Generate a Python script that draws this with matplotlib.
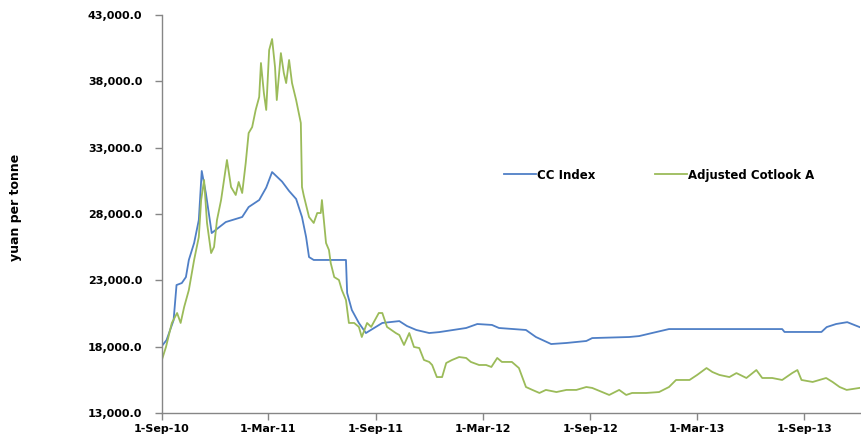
import numpy as np
import pandas as pd
import matplotlib
matplotlib.use("Agg")
import matplotlib.pyplot as plt

# CC Index (yuan per tonne)
cc_dates = ["2010-09-01", "2010-09-09", "2010-09-21", "2010-09-26", "2010-10-05", "2010-10-12",
            "2010-10-17", "2010-10-26", "2010-11-03", "2010-11-08", "2010-11-15", "2010-11-25",
            "2010-12-19", "2011-01-16", "2011-01-27", "2011-02-14", "2011-02-26", "2011-03-08",
            "2011-03-25", "2011-04-06", "2011-04-18", "2011-04-28", "2011-05-05", "2011-05-10",
            "2011-05-18", "2011-07-12", "2011-07-14", "2011-07-22", "2011-08-03", "2011-08-15",
            "2011-09-12", "2011-10-11", "2011-10-24", "2011-11-09", "2011-12-01", "2011-12-18",
            "2012-02-02", "2012-02-21", "2012-03-17", "2012-03-29", "2012-05-14", "2012-05-31",
            "2012-06-26", "2012-07-22", "2012-08-25", "2012-09-04", "2012-11-06", "2012-11-23",
            "2012-12-15", "2013-01-13", "2013-07-25", "2013-07-29", "2013-09-30", "2013-10-09",
            "2013-10-25", "2013-11-13", "2013-12-04"]
cc_values = [18050, 18500, 20000, 22650, 22800, 23250,
             24540, 25820, 27550, 31250, 29590, 26570,
             27400, 27780, 28530, 29060, 30000, 31170,
             30450, 29740, 29140, 27780, 26270, 24760,
             24540, 24540, 22050, 20770, 19790, 19030,
             19790, 19930, 19560, 19260, 19030, 19100,
             19410, 19710, 19640, 19410, 19260, 18730,
             18200, 18280, 18430, 18650, 18730, 18800,
             19030, 19330, 19330, 19110, 19110, 19480,
             19710, 19850, 19480]

# Adjusted Cotlook A (yuan per tonne)
ct_dates = ["2010-09-01", "2010-09-08", "2010-09-18", "2010-09-27", "2010-10-03", "2010-10-09",
            "2010-10-17", "2010-10-26", "2010-11-03", "2010-11-07", "2010-11-12", "2010-11-17",
            "2010-11-24", "2010-11-29", "2010-12-04", "2010-12-11", "2010-12-16", "2010-12-21",
            "2010-12-28", "2011-01-05", "2011-01-10", "2011-01-16", "2011-01-22", "2011-01-27",
            "2011-02-02", "2011-02-08", "2011-02-14", "2011-02-17", "2011-02-22", "2011-02-26",
            "2011-03-03", "2011-03-08", "2011-03-13", "2011-03-16", "2011-03-23", "2011-03-28",
            "2011-04-01", "2011-04-06", "2011-04-11", "2011-04-18", "2011-04-26", "2011-04-28",
            "2011-05-01", "2011-05-10", "2011-05-18", "2011-05-24", "2011-05-30", "2011-06-01",
            "2011-06-08", "2011-06-13", "2011-06-16", "2011-06-22", "2011-06-30", "2011-07-05",
            "2011-07-12", "2011-07-17", "2011-07-26", "2011-08-03", "2011-08-08", "2011-08-17",
            "2011-08-24", "2011-09-06", "2011-09-12", "2011-09-20", "2011-10-05", "2011-10-11",
            "2011-10-19", "2011-10-28", "2011-11-05", "2011-11-14", "2011-11-22", "2011-12-01",
            "2011-12-06", "2011-12-14", "2011-12-23", "2011-12-30", "2012-01-09", "2012-01-21",
            "2012-02-02", "2012-02-10", "2012-02-24", "2012-03-07", "2012-03-16", "2012-03-26",
            "2012-04-03", "2012-04-20", "2012-05-02", "2012-05-14", "2012-05-25", "2012-06-06",
            "2012-06-17", "2012-07-05", "2012-07-22", "2012-08-08", "2012-08-25", "2012-09-04",
            "2012-09-21", "2012-10-03", "2012-10-20", "2012-11-01", "2012-11-11", "2012-12-05",
            "2012-12-27", "2013-01-13", "2013-01-25", "2013-02-17", "2013-03-02", "2013-03-18",
            "2013-03-28", "2013-04-09", "2013-04-26", "2013-05-08", "2013-05-25", "2013-06-11",
            "2013-06-21", "2013-07-08", "2013-07-25", "2013-08-11", "2013-08-20", "2013-08-27",
            "2013-09-15", "2013-10-08", "2013-10-19", "2013-10-31", "2013-11-12", "2013-12-04"]
ct_values = [17000, 17980, 19790, 20540, 19790, 20990,
             22270, 24540, 26270, 29060, 30570, 27330,
             25060, 25520, 27550, 29060, 30570, 32080,
             30040, 29440, 30420, 29590, 31850, 34110,
             34560, 35850, 36830, 39390, 37130, 35850,
             40370, 41200, 39090, 36600, 40140, 38640,
             37880, 39620, 37880, 36600, 34870, 30040,
             29400, 27780, 27330, 28080, 28080, 29060,
             25820, 25290, 24310, 23250, 23030, 22270,
             21520, 19790, 19790, 19490, 18730, 19790,
             19490, 20540, 20540, 19490, 19030, 18880,
             18130, 19030, 17980, 17900, 17000, 16850,
             16620, 15710, 15710, 16770, 17000, 17220,
             17150, 16850, 16620, 16620, 16470, 17150,
             16850, 16850, 16390, 14960, 14740, 14510,
             14740, 14580, 14740, 14740, 14960, 14890,
             14580, 14360, 14740, 14360, 14510, 14510,
             14580, 14960, 15490, 15490, 15870, 16390,
             16090, 15870, 15710, 16010, 15640, 16240,
             15640, 15640, 15490, 16010, 16240, 15490,
             15340, 15640, 15340, 14960, 14740, 14890]

tick_dates = ["2010-09-01", "2011-03-01", "2011-09-01", "2012-03-01",
              "2012-09-01", "2013-03-01", "2013-09-01"]
tick_labels = ["1-Sep-10", "1-Mar-11", "1-Sep-11", "1-Mar-12",
               "1-Sep-12", "1-Mar-13", "1-Sep-13"]
y_ticks = [13000, 18000, 23000, 28000, 33000, 38000, 43000]

fig = plt.figure(figsize=(8.61, 4.46), dpi=100)
ax = fig.add_axes([0.188, 0.074, 0.811, 0.892])

ax.plot(pd.to_datetime(cc_dates), cc_values, color="#4F7FC6", lw=1.3, label="CC Index")
ax.plot(pd.to_datetime(ct_dates), ct_values, color="#9BBB59", lw=1.3, label="Adjusted Cotlook A")

ax.set_ylim(13000, 43000)
ax.set_xlim(pd.Timestamp("2010-09-01"), pd.Timestamp("2013-12-05"))
ax.set_yticks(y_ticks)
ax.set_yticklabels([f"{v:,.1f}" for v in y_ticks])
ax.set_xticks(pd.to_datetime(tick_dates))
ax.set_xticklabels(tick_labels)

for s in ["top", "right"]:
    ax.spines[s].set_visible(False)
for s in ["left", "bottom"]:
    ax.spines[s].set_color("#868686")
    ax.spines[s].set_linewidth(1.0)
ax.tick_params(axis="both", length=5, width=1.0, color="#868686", labelsize=8)
ax.tick_params(axis="y", pad=9)
ax.tick_params(axis="x", pad=3)
for lab in ax.get_xticklabels() + ax.get_yticklabels():
    lab.set_fontweight("bold")

fig.text(0.018, 0.535, "yuan per tonne", rotation=90, ha="center", va="center",
         fontsize=9, fontweight="bold")

ax.legend(loc="center left", bbox_to_anchor=(0.475, 0.598), ncol=2, frameon=False,
          handlelength=2.7, handletextpad=0.1, columnspacing=5.0,
          prop={"size": 8.5, "weight": "bold"})

fig.savefig("out.png", dpi=100)
